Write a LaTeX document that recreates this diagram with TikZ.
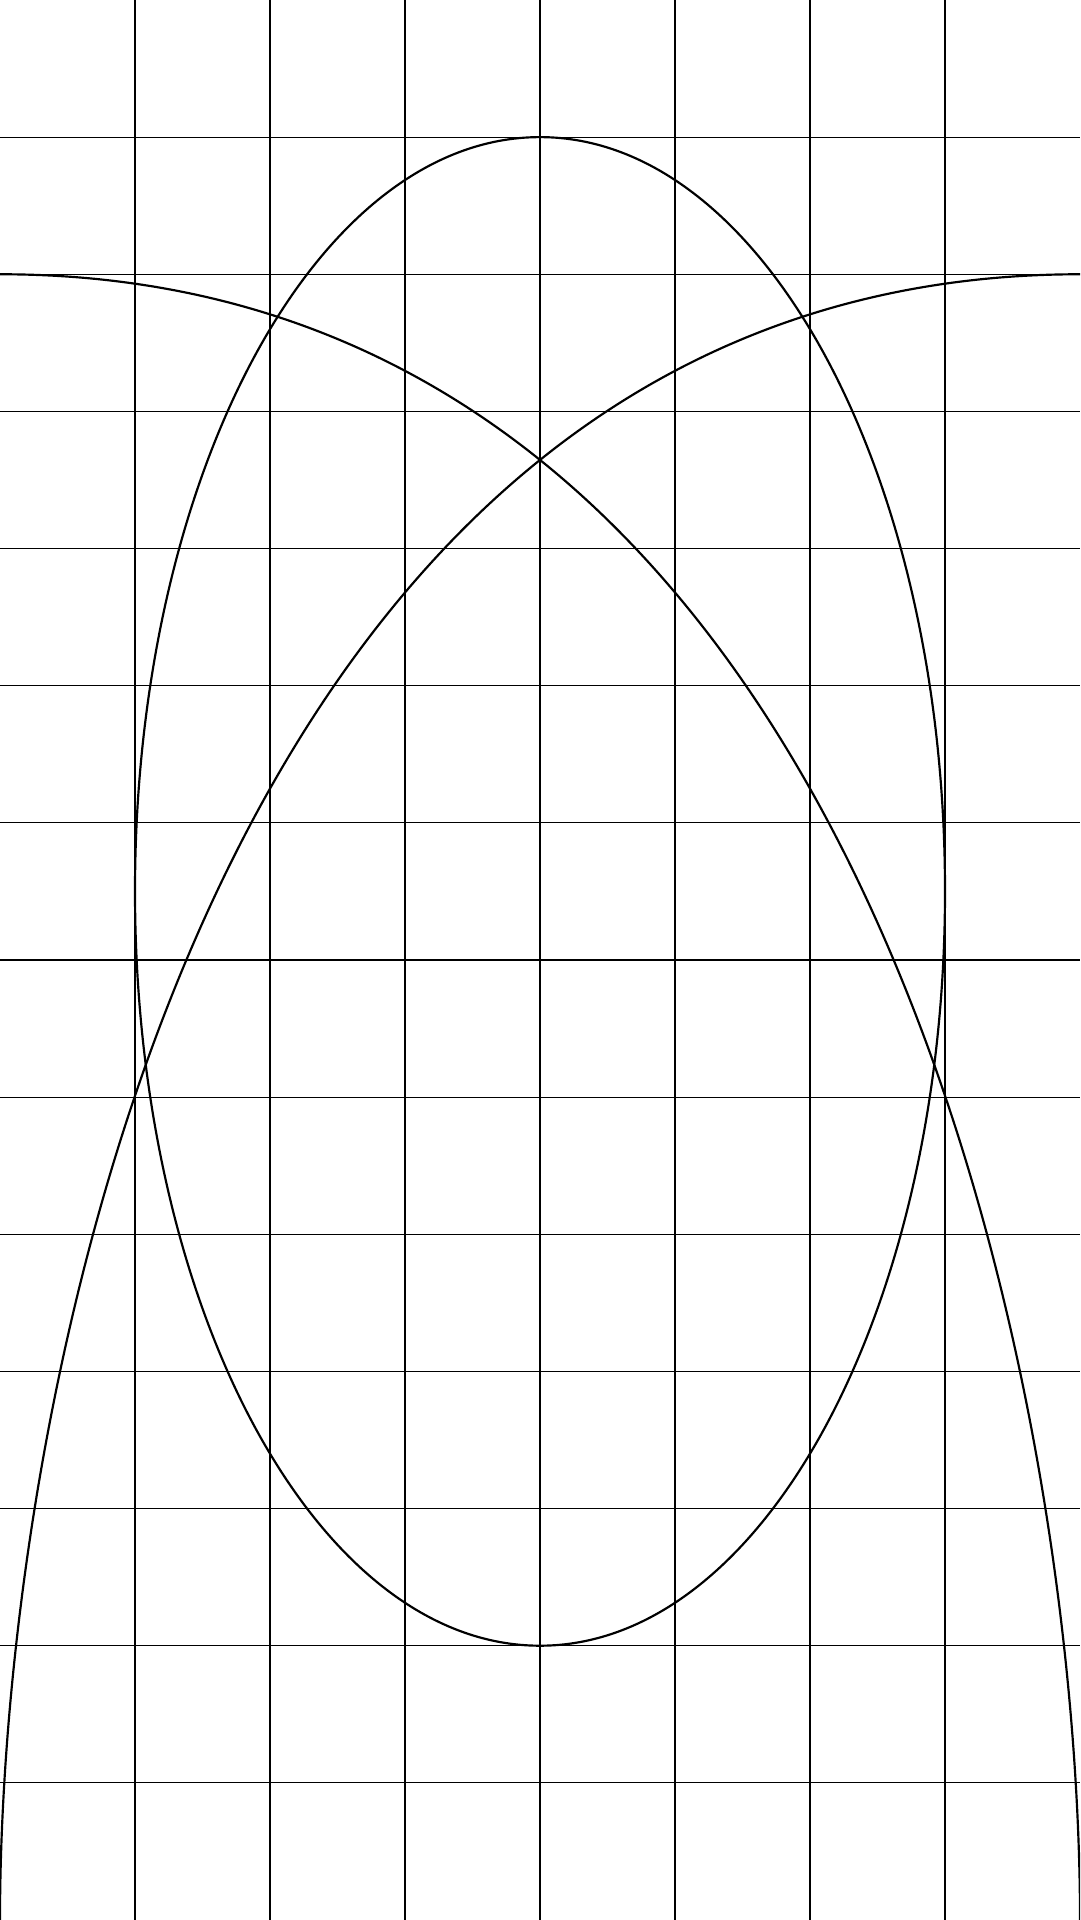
\documentclass[tikz,border=0pt]{standalone}
\begin{document}
\begin{tikzpicture}[x=0.984375cm,y=1cm,
  gridline/.style={black,line width=0.22pt},
  curveline/.style={black,line width=0.45pt}]
\useasboundingbox (0,0) rectangle (8,14);
\clip (0,0) rectangle (8,14);
\fill[white] (0,0) rectangle (8,14);
\foreach \i in {1,...,7} \draw[gridline] (\i,0) -- (\i,14);
\foreach \j in {1,...,13} \draw[gridline] (0,\j) -- (8,\j);
\coordinate (c) at (4,7.5);
\draw[curveline] (c) ellipse [x radius=3, y radius=5.5];
\coordinate (tl) at (0,12);
\coordinate (br) at (8,0);
\coordinate (tr) at (8,12);
\coordinate (bl) at (0,0);
\draw[curveline] (tl) .. controls (6.5,12) and (8,3.75) .. (br);
\draw[curveline] (tr) .. controls (1.5,12) and (0,3.75) .. (bl);
\end{tikzpicture}
\end{document}
